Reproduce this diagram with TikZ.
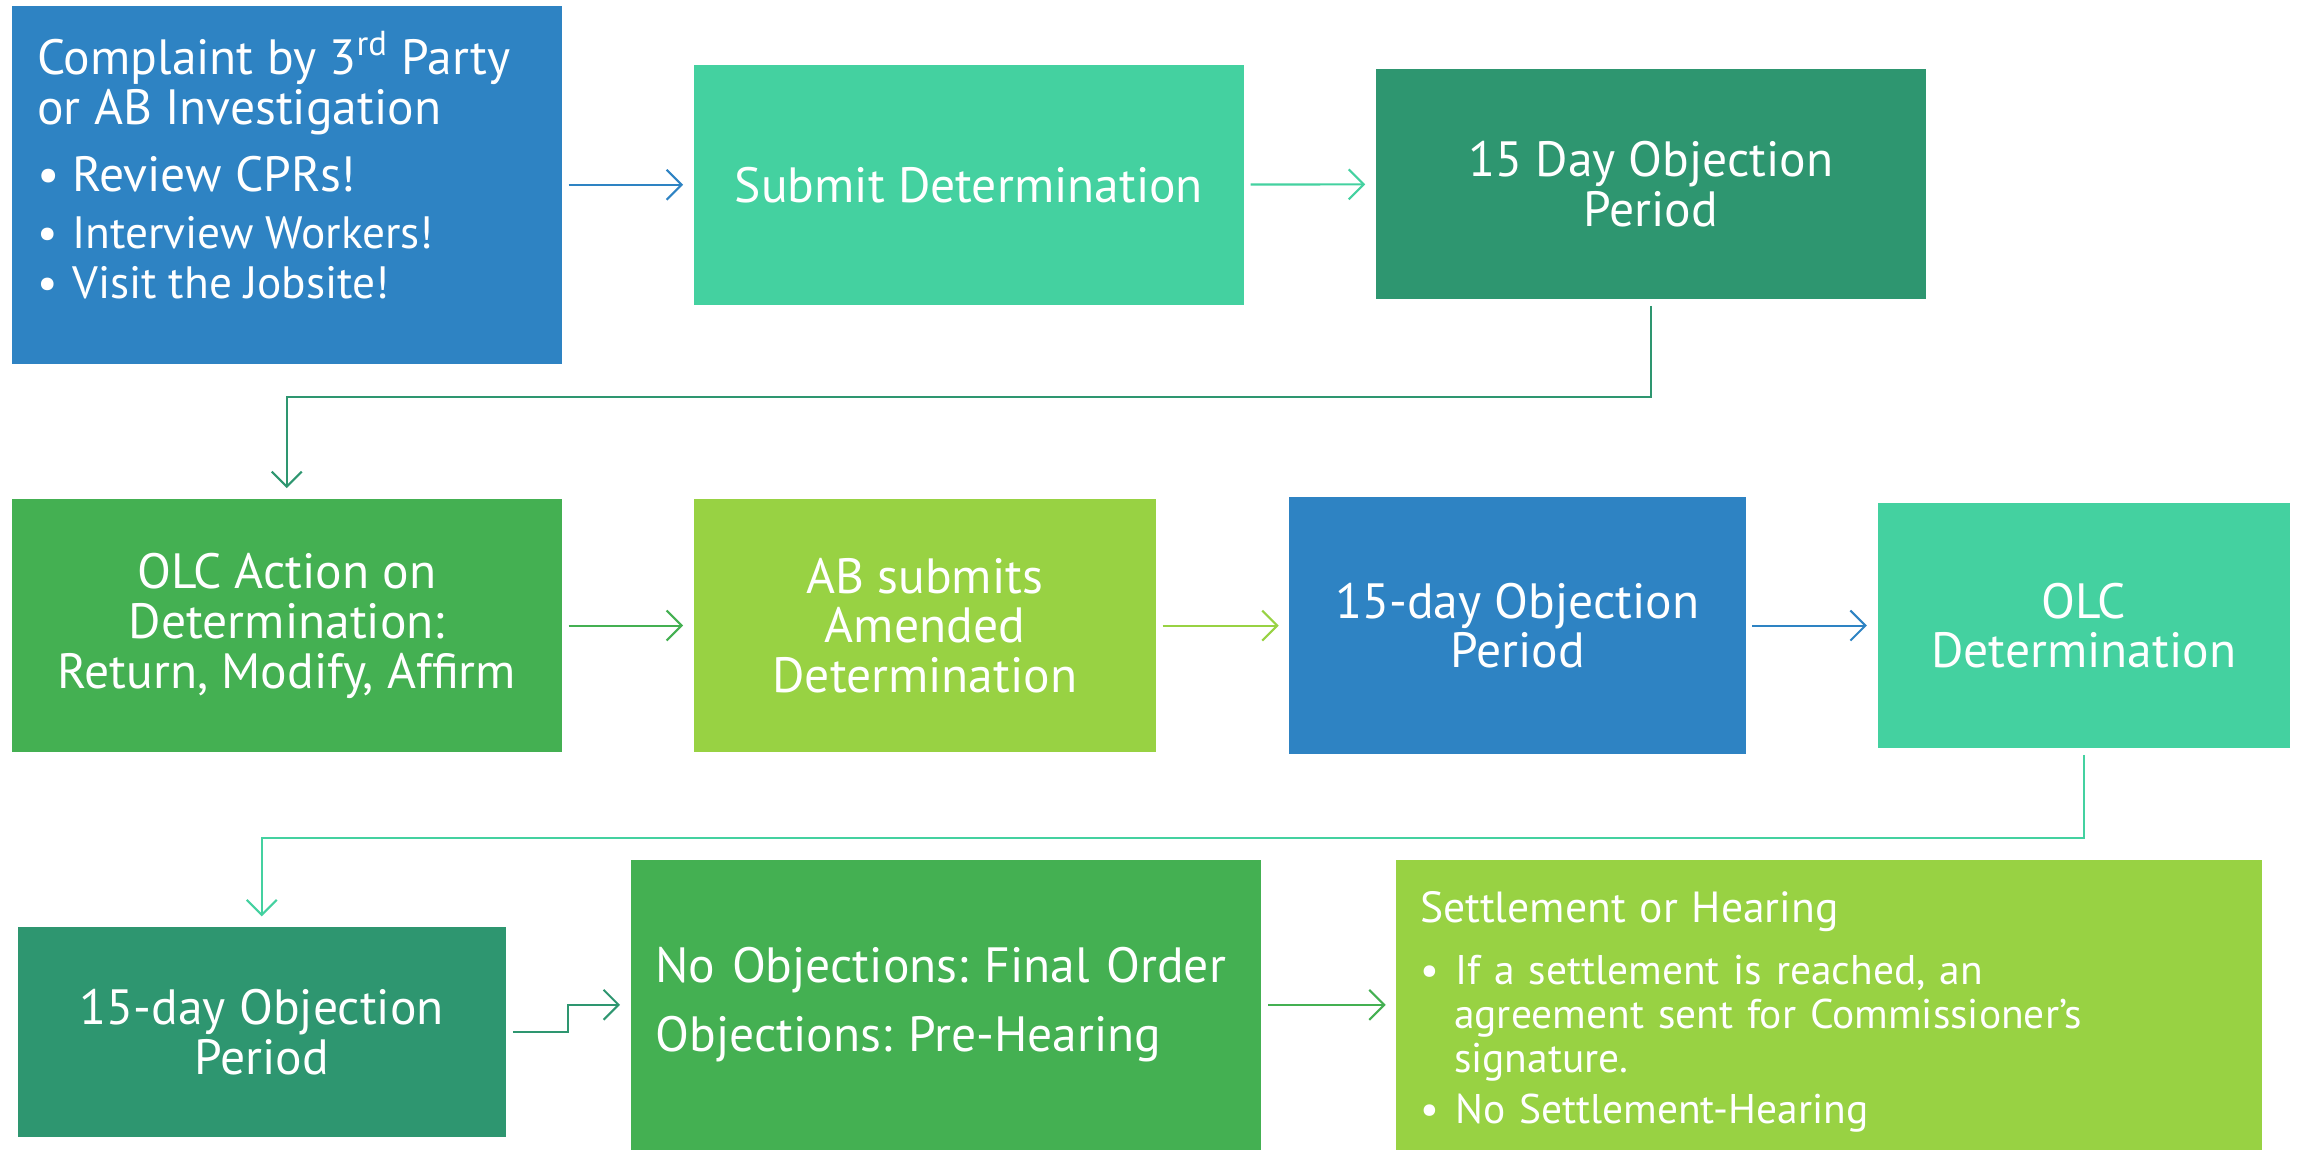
\documentclass[tikz,border=0pt]{standalone}
\usepackage{fontspec}
\setmainfont{PT Sans}
\usepackage{tikz}
\usetikzlibrary{arrows.meta, calc}
\definecolor{blueclr}  {RGB}{46, 131, 195}
\definecolor{tealclr}  {RGB}{68, 209, 160}
\definecolor{darkgreen}{RGB}{46, 150, 112}
\definecolor{greenclr} {RGB}{68, 176,  82}
\definecolor{limeclr}  {RGB}{152, 210, 67}
\newcommand\pw{0.14668mm}
\newcommand\boxfont{\fontsize{14.1}{14.2}\selectfont}
\newcommand\bul{\makebox[3.5mm][l]{\textbullet}}
\newcommand\bulgap{\hspace*{3.4mm}}
\frenchspacing

\begin{document}
\begin{tikzpicture}[x=\pw, y=-\pw, font=\boxfont,
  box/.style={inner sep=0pt, text=white, align=center},
  conn/.style={line width=0.6pt, -{Straight Barb[length=1.5mm,width=3mm]},
    shorten >=1mm, shorten <=0.6mm}]
  \useasboundingbox (0,0) rectangle (1568,785);
  % row 1
  \node[box, fill=blueclr, minimum width=375*\pw, minimum height=244*\pw] (complaint) at (195.5,126) {};
  \node[inner sep=0pt, text=white, align=left, anchor=north west] (complainttxt) at (25,21)
    {Complaint by 3\textsuperscript{rd} Party\\
     or AB Investigation\\[5pt]
     \bul Review CPRs!\\[2pt]
     {\fontsize{12.9}{14}\selectfont\bul Interview Workers!}\\
     {\fontsize{12.9}{14}\selectfont\bul Visit the Jobsite!}};
  \node[box, fill=tealclr, minimum width=375*\pw, minimum height=164*\pw] (submit) at (660.5,126)
    {Submit Determination};
  \node[box, fill=darkgreen, minimum width=375*\pw, minimum height=157*\pw] (objone) at (1125.5,125.5)
    {15 Day Objection\\ Period};
  % row 2
  \node[box, fill=greenclr, minimum width=375*\pw, minimum height=173*\pw] (olcaction) at (195.5,426.5)
    {OLC Action on\\ Determination:\\ Return, Modify, Affirm};
  \node[box, fill=limeclr, minimum width=315*\pw, minimum height=173*\pw] (amended) at (630.5,426.5)
    {AB submits\\ Amended\\ Determination};
  \node[box, fill=blueclr, minimum width=311*\pw, minimum height=175*\pw] (objtwo) at (1034.5,426.5)
    {15-day Objection\\ Period};
  \node[box, fill=tealclr, minimum width=281*\pw, minimum height=167*\pw] (olcdet) at (1420.5,426.5)
    {OLC\\ Determination};
  % row 3
  \node[box, fill=darkgreen, minimum width=333*\pw, minimum height=143*\pw] (objthree) at (178.5,703.5)
    {15-day Objection\\ Period};
  \node[box, fill=greenclr, minimum width=430*\pw, minimum height=198*\pw, text width=58.1mm,
    align=left] (outcome) at (645,685)
    {No Objections: Final Order\\[5.5pt] Objections: Pre-Hearing};
  \node[box, fill=limeclr, minimum width=590*\pw, minimum height=198*\pw, text width=81.8mm,
    align=left, font=\fontsize{11.8}{12.5}\selectfont] (settle) at (1247,685)
    {{\fontsize{12.4}{12.5}\selectfont\rule{0pt}{12.8pt}Settlement or Hearing}\\[5pt]
     \bul If a settlement is reached, an\\
     \bulgap agreement sent for Commissioner’s\\
     \bulgap signature.\\[2pt]
     \bul No Settlement-Hearing};
  % connectors
  \draw[conn, blueclr] (complaint) -- (submit);
  \draw[conn, tealclr] (submit) -- (objone);
  \draw[conn, darkgreen] (objone.south) -- ++(0,66) -| (olcaction.north);
  \draw[conn, greenclr] (olcaction) -- (amended);
  \draw[conn, limeclr] (amended) -- (objtwo);
  \draw[conn, blueclr] (objtwo) -- (olcdet);
  \draw[conn, tealclr] (olcdet.south) -- ++(0,61) -| (objthree.north);
  \coordinate (elbow) at ($(objthree.east)!.5!(outcome.west)$);
  \draw[conn, darkgreen] (objthree.east) -- (elbow |- objthree.east) |- (outcome.west);
  \draw[conn, greenclr] (outcome) -- (settle);
\end{tikzpicture}
\end{document}
